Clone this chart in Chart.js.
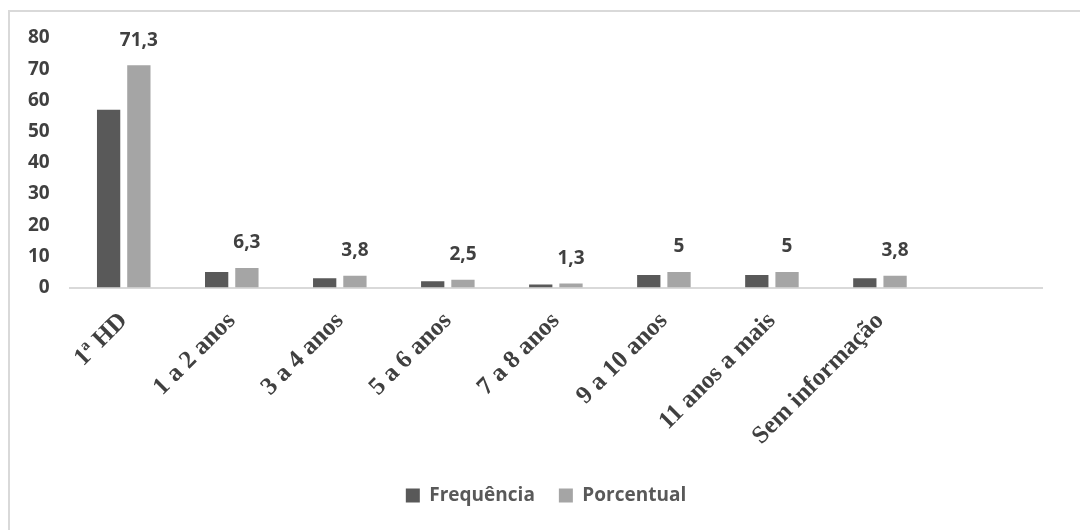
<!DOCTYPE html>
<html>
<head>
<meta charset="utf-8">
<script src="https://cdn.jsdelivr.net/npm/chart.js@4"></script>
<style>
	html, body { margin: 0; padding: 0; background: #ffffff; }
	#wrap { position: relative; width: 1080px; height: 530px; overflow: hidden; }
	#frame { position: absolute; left: 8px; top: 10px; width: 1200px; height: 600px;
		border-top: 2px solid #d9d9d9; border-left: 2px solid #d9d9d9; }
	#box { position: absolute; left: 0; top: 0; width: 1080px; height: 530px; }
</style>
</head>
<body>
<div id="wrap">
	<div id="frame"></div>
	<div id="box"><canvas id="chart"></canvas></div>
</div>
<script>
// categorias (a última fica vazia, como no original)
const categories = ['1ª HD', '1 a 2 anos', '3 a 4 anos', '5 a 6 anos', '7 a 8 anos', '9 a 10 anos', '11 anos a mais', 'Sem informação', ''];
const frequencia = [57, 5, 3, 2, 1, 4, 4, 3, null];
const porcentual = [71.3, 6.3, 3.8, 2.5, 1.3, 5, 5, 3.8, null];
const yTicks = [0, 10, 20, 30, 40, 50, 60, 70, 80];

// Rótulos de dados só na série Porcentual
const valueLabels = {
	id: 'valueLabels',
	afterDatasetsDraw(chart) {
		const ctx = chart.ctx;
		const meta = chart.getDatasetMeta(1);
		ctx.save();
		ctx.font = 'bold 19px "Open Sans", sans-serif';
		ctx.fillStyle = '#404040';
		ctx.textAlign = 'center';
		ctx.textBaseline = 'middle';
		meta.data.forEach((bar, i) => {
			const v = porcentual[i];
			if (v === null) return;
			ctx.fillText(String(v).replace('.', ','), bar.x, bar.y - 25);
		});
		ctx.restore();
	}
};

// a legenda do original fica um pouco à direita do centro
const legendShift = {
	id: 'legendShift',
	afterLayout(chart) {
		if (chart.legend) {
			chart.legend.left += 17;
			chart.legend.right += 17;
		}
	}
};

const ctx = document.getElementById('chart').getContext('2d');
const chart = new Chart(ctx, {
	type: 'bar',
	data: {
		labels: categories,
		datasets: [
			{
				label: 'Frequência',
				data: frequencia,
				backgroundColor: '#595959',
				categoryPercentage: 0.56,
				barPercentage: 0.77
			},
			{
				label: 'Porcentual',
				data: porcentual,
				backgroundColor: '#a5a5a5',
				categoryPercentage: 0.56,
				barPercentage: 0.77
			}
		]
	},
	options: {
		responsive: true,
		maintainAspectRatio: false,
		animation: false,
		layout: { padding: { left: 16, right: 38, top: 38, bottom: 15 } },
		plugins: {
			legend: {
				position: 'bottom',
				labels: {
					color: '#595959',
					font: { family: '"Open Sans", sans-serif', size: 19, weight: 'bold' },
					boxWidth: 14,
					boxHeight: 14,
					padding: 24
				}
			},
			tooltip: { enabled: false }
		},
		scales: {
			x: {
				grid: { display: false },
				border: { color: '#d9d9d9', width: 2 },
				// os rótulos inclinados não devem empurrar a área do gráfico
				afterFit: (axis) => { axis.paddingLeft = 0; axis.paddingRight = 0; },
				ticks: {
					color: '#404040',
					font: { family: '"Liberation Serif", "Times New Roman", serif', size: 25, weight: 'bold' },
					minRotation: 45,
					maxRotation: 45,
					autoSkip: false,
					padding: 11
				}
			},
			y: {
				min: 0,
				max: 80,
				afterBuildTicks: (axis) => { axis.ticks = yTicks.map(v => ({ value: v })); },
				grid: { display: false },
				border: { display: false },
				ticks: {
					color: '#404040',
					font: { family: '"Open Sans", sans-serif', size: 19, weight: 'bold' },
					padding: 12
				}
			}
		}
	},
	plugins: [valueLabels, legendShift]
});
</script>
</body>
</html>
